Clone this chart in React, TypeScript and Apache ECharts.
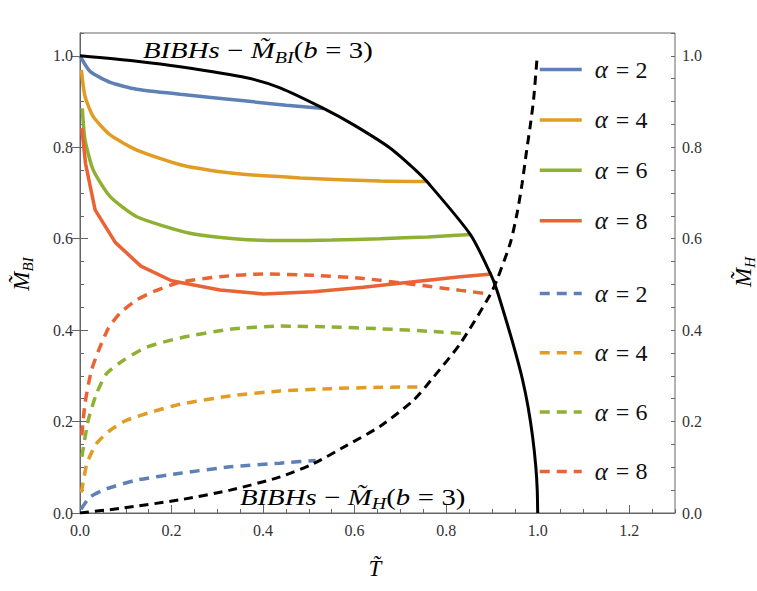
import React, { useEffect, useRef } from "react";
import * as echarts from "echarts";

const F = "Liberation Serif";

const alphas = [2, 4, 6, 8];
const colors = ["#5E81B5", "#E19C24", "#8FB032", "#EB6235"];

// Solid curves: M_BI versus T (left axis)
const mBIa2: number[][] = [[0, 1.0], [0.022, 0.966], [0.066, 0.942], [0.124, 0.927], [0.219, 0.916], [0.364, 0.901], [0.45, 0.892], [0.532, 0.885]];
const mBIa4: number[][] = [[0.003, 0.969], [0.011, 0.911], [0.029, 0.867], [0.066, 0.827], [0.124, 0.794], [0.226, 0.76], [0.335, 0.743], [0.481, 0.733], [0.656, 0.726], [0.758, 0.725]];
const mBIa6: number[][] = [[0.005, 0.885], [0.011, 0.816], [0.029, 0.75], [0.066, 0.692], [0.124, 0.648], [0.24, 0.612], [0.35, 0.599], [0.445, 0.596], [0.55, 0.597], [0.656, 0.6], [0.76, 0.604], [0.853, 0.609]];
const mBIa8: number[][] = [[0.004, 0.842], [0.012, 0.765], [0.033, 0.663], [0.077, 0.592], [0.133, 0.54], [0.2, 0.508], [0.306, 0.488], [0.401, 0.479], [0.51, 0.484], [0.619, 0.494], [0.729, 0.506], [0.831, 0.517], [0.9, 0.523]];

// Dashed curves: M_H versus T (right axis)
const mHa2: number[][] = [[0.002, 0.008], [0.022, 0.035], [0.058, 0.053], [0.124, 0.072], [0.219, 0.087], [0.328, 0.101], [0.437, 0.109], [0.515, 0.115]];
const mHa4: number[][] = [[0.003, 0.045], [0.015, 0.108], [0.036, 0.152], [0.066, 0.181], [0.102, 0.203], [0.16, 0.222], [0.219, 0.238], [0.328, 0.256], [0.437, 0.267], [0.547, 0.272], [0.656, 0.275], [0.751, 0.276]];
const mHa6: number[][] = [[0.004, 0.123], [0.018, 0.203], [0.036, 0.261], [0.058, 0.305], [0.095, 0.334], [0.146, 0.363], [0.219, 0.383], [0.328, 0.402], [0.437, 0.409], [0.547, 0.407], [0.656, 0.403], [0.773, 0.397], [0.845, 0.392]];
const mHa8: number[][] = [[0.004, 0.17], [0.011, 0.24], [0.025, 0.312], [0.044, 0.364], [0.062, 0.404], [0.087, 0.437], [0.124, 0.466], [0.16, 0.484], [0.219, 0.505], [0.306, 0.517], [0.401, 0.523], [0.51, 0.52], [0.619, 0.513], [0.729, 0.5], [0.831, 0.487], [0.896, 0.479]];

// Black boundaries
const boundaryBI: number[][] = [[0, 1.0], [0.124, 0.988], [0.219, 0.976], [0.364, 0.952], [0.437, 0.93], [0.532, 0.885], [0.598, 0.849], [0.678, 0.798], [0.729, 0.754], [0.758, 0.725], [0.853, 0.609], [0.897, 0.523], [0.91, 0.49], [0.933, 0.415], [0.952, 0.349], [0.967, 0.291], [0.979, 0.232], [0.989, 0.166], [0.996, 0.1], [0.999, 0.05], [1.0, 0.0]];
const boundaryH: number[][] = [[0, 0], [0.087, 0.01], [0.219, 0.029], [0.328, 0.05], [0.437, 0.079], [0.51, 0.108], [0.583, 0.148], [0.656, 0.19], [0.729, 0.247], [0.773, 0.298], [0.831, 0.371], [0.896, 0.477], [0.911, 0.51], [0.94, 0.59], [0.955, 0.656], [0.966, 0.721], [0.976, 0.794], [0.984, 0.849], [0.991, 0.904], [0.999, 1.0]];

const solidData = [mBIa2, mBIa4, mBIa6, mBIa8];
const dashedData = [mHa2, mHa4, mHa6, mHa8];

const X_MIN = 0, X_MAX = 1.3, Y_MIN = 0, Y_MAX = 1.05;
const MAJOR = 0.2, MINOR = 0.05;

const solidNames = alphas.map((a) => `α = ${a}`);
const dashedNames = alphas.map((a) => `α = ${a}\u200b`);

const axisGray = "#666";
const labelColor = "#333";
const textColor = "#111";

const legendRich = {
  a: { fontFamily: F, fontStyle: "italic", fontSize: 25, color: textColor, padding: [0, 5, 0, 8], lineHeight: 24 },
  e: { fontFamily: F, fontSize: 24, color: textColor, padding: [0, 6, 0, 3], lineHeight: 24 },
  n: { fontFamily: F, fontSize: 24, color: textColor, lineHeight: 24 },
};
const legendFormatter = (name: string) => `{a|α}{e|=}{n|${name.replace(/[^0-9]/g, "")}}`;

const annRich = {
  i: { fontFamily: F, fontStyle: "italic", fontSize: 23, lineHeight: 30, color: textColor },
  r: { fontFamily: F, fontSize: 23, lineHeight: 30, color: textColor },
  op: { fontFamily: F, fontSize: 23, lineHeight: 30, color: textColor, padding: [0, 6, 0, 6] },
  s: { fontFamily: F, fontStyle: "italic", fontSize: 16, lineHeight: 16, verticalAlign: "bottom", color: textColor },
};

const nameRich = {
  m: { fontFamily: F, fontStyle: "italic", fontSize: 23, lineHeight: 28, color: textColor },
  s: { fontFamily: F, fontStyle: "italic", fontSize: 15, lineHeight: 15, verticalAlign: "bottom", color: textColor },
};

function majorAxisY(position: "left" | "right") {
  return {
    type: "value",
    position,
    min: Y_MIN,
    max: Y_MAX,
    interval: MAJOR,
    axisLine: { show: true, lineStyle: { color: axisGray, width: 1 } },
    axisTick: { show: true, inside: true, length: 8, lineStyle: { color: axisGray } },
    axisLabel: {
      show: true,
      margin: 7,
      showMaxLabel: false,
      formatter: (v: number) => v.toFixed(1),
      color: labelColor,
      fontFamily: F,
      fontSize: 16,
    },
    splitLine: { show: false },
  };
}
function minorAxisY(position: "left" | "right") {
  return {
    type: "value",
    position,
    min: Y_MIN,
    max: Y_MAX,
    interval: MINOR,
    axisLine: { show: false },
    axisTick: { show: true, inside: true, length: 4, lineStyle: { color: axisGray } },
    axisLabel: { show: false },
    splitLine: { show: false },
  };
}

export default function App() {
  const ref = useRef<HTMLDivElement>(null);
  useEffect(() => {
    if (!ref.current) return;
    const chart = echarts.init(ref.current, null, { renderer: "svg" });

    const series: any[] = [];
    solidData.forEach((d, k) => {
      series.push({
        type: "line",
        name: solidNames[k],
        data: d,
        xAxisIndex: 0,
        yAxisIndex: 0,
        symbol: "none",
        showSymbol: false,
        smooth: k === 3 ? false : 0.2,
        lineStyle: { color: colors[k], width: 3.5 },
        itemStyle: { color: colors[k] },
        z: 2,
      });
    });
    dashedData.forEach((d, k) => {
      series.push({
        type: "line",
        name: dashedNames[k],
        data: d,
        xAxisIndex: 0,
        yAxisIndex: 1,
        symbol: "none",
        showSymbol: false,
        smooth: 0.2,
        lineStyle: { color: colors[k], width: 3.5, type: [10, 7] },
        itemStyle: { color: colors[k] },
        z: 2,
      });
    });
    series.push({
      type: "line",
      name: "BIBHs − M̃BI (b = 3)",
      data: boundaryBI,
      xAxisIndex: 0,
      yAxisIndex: 0,
      symbol: "none",
      showSymbol: false,
      smooth: 0.25,
      lineStyle: { color: "#000", width: 3 },
      itemStyle: { color: "#000" },
      z: 3,
    });
    series.push({
      type: "line",
      name: "BIBHs − M̃H (b = 3)",
      data: boundaryH,
      xAxisIndex: 0,
      yAxisIndex: 1,
      symbol: "none",
      showSymbol: false,
      smooth: 0.25,
      lineStyle: { color: "#000", width: 3, type: [9, 6] },
      itemStyle: { color: "#000" },
      z: 3,
    });

    const legendBase = {
      orient: "vertical",
      left: 538,
      padding: 0,
      itemWidth: 42,
      itemHeight: 14,
      selectedMode: false,
      formatter: legendFormatter,
      textStyle: { rich: legendRich },
      lineStyle: { width: 3.5 },
      itemStyle: { opacity: 0, borderWidth: 0 },
    };

    chart.setOption({
      animation: false,
      backgroundColor: "#fff",
      grid: {
        left: 80,
        right: 82,
        top: 33,
        bottom: 78,
        show: true,
        borderColor: axisGray,
        borderWidth: 1,
        backgroundColor: "transparent",
      },
      legend: [
        { ...legendBase, data: solidNames, top: 57, itemGap: 25.4 },
        { ...legendBase, data: dashedNames, top: 281, itemGap: 34.3 },
      ],
      xAxis: [
        {
          type: "value",
          position: "bottom",
          min: X_MIN,
          max: X_MAX,
          interval: MAJOR,
          axisLine: { show: true, lineStyle: { color: axisGray, width: 1 } },
          axisTick: { show: true, inside: true, length: 8, lineStyle: { color: axisGray } },
          axisLabel: {
            show: true,
            margin: 9,
            showMaxLabel: false,
            formatter: (v: number) => v.toFixed(1),
            color: labelColor,
            fontFamily: F,
            fontSize: 16,
          },
          splitLine: { show: false },
        },
        {
          type: "value",
          position: "bottom",
          min: X_MIN,
          max: X_MAX,
          interval: MINOR,
          axisLine: { show: false },
          axisTick: { show: true, inside: true, length: 4, lineStyle: { color: axisGray } },
          axisLabel: { show: false },
          splitLine: { show: false },
        },
      ],
      yAxis: [majorAxisY("left"), majorAxisY("right"), minorAxisY("left"), minorAxisY("right")],
      graphic: [
        {
          type: "text",
          x: 143,
          y: 35.5,
          scaleX: 1.25,
          silent: true,
          style: {
            text: "{i|BIBHs}{op|−}{i|M̃}{s|BI}{r|(}{i|b}{op|=}{r|3)}",
            rich: annRich,
            align: "left",
            verticalAlign: "top",
          },
        },
        {
          type: "text",
          x: 240,
          y: 482,
          scaleX: 1.25,
          silent: true,
          style: {
            text: "{i|BIBHs}{op|−}{i|M̃}{s|H}{r|(}{i|b}{op|=}{r|3)}",
            rich: annRich,
            align: "left",
            verticalAlign: "top",
          },
        },
        {
          type: "text",
          x: 375,
          y: 568,
          silent: true,
          style: { text: "{m|T̃}", rich: nameRich, align: "center", verticalAlign: "middle" },
        },
        {
          type: "text",
          x: 21,
          y: 274,
          rotation: Math.PI / 2,
          silent: true,
          style: { text: "{m|M̃}{s|BI}", rich: nameRich, align: "center", verticalAlign: "middle" },
        },
        {
          type: "text",
          x: 743,
          y: 272,
          rotation: Math.PI / 2,
          silent: true,
          style: { text: "{m|M̃}{s|H}", rich: nameRich, align: "center", verticalAlign: "middle" },
        },
      ],
      series,
    });
    return () => chart.dispose();
  }, []);
  return <div ref={ref} style={{ position: "fixed", left: 0, top: 0, width: 757, height: 591 }} />;
}
